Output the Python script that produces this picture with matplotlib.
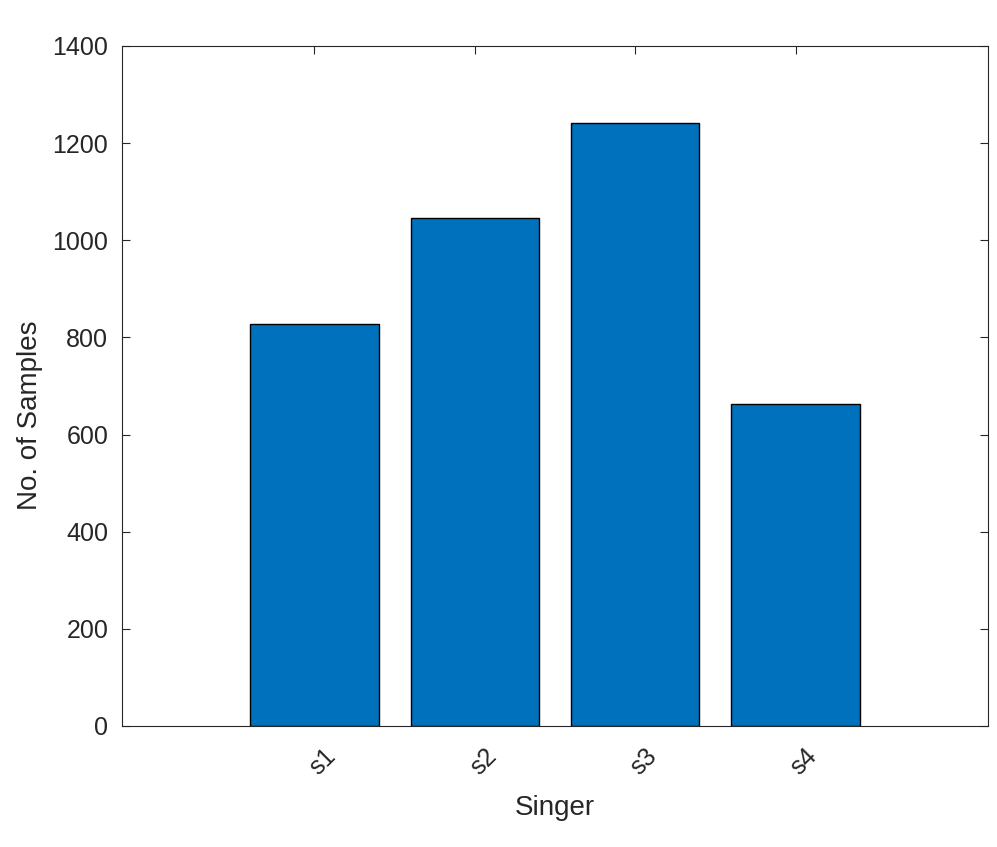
import matplotlib
matplotlib.use('Agg')
import matplotlib.pyplot as plt
from matplotlib.transforms import ScaledTranslation

# Data
singers = ['s1', 's2', 's3', 's4']
samples = [828, 1046, 1242, 663]

plt.rcParams['font.family'] = ['Liberation Sans', 'DejaVu Sans']

fig = plt.figure(figsize=(9.97, 8.47), dpi=100)
ax = fig.add_axes([0.1224, 0.1429, 0.991 - 0.1224, 0.9457 - 0.1429])

pos = list(range(1, len(singers) + 1))
ax.bar(pos, samples, width=0.8, color='#0072BD', edgecolor='black', linewidth=1.0, zorder=2)

ax.set_xlim(-0.2, 5.2)
ax.set_ylim(0, 1400)
ax.set_xticks(pos)
ax.set_xticklabels(singers, rotation=45, ha='center', va='top')
ax.set_yticks(range(0, 1401, 200))

ax.tick_params(direction='in', top=True, right=True, length=6, width=0.8,
               labelsize=18, colors='#262626', pad=10)
ax.tick_params(axis='x', pad=13)
# nudge rotated labels a bit to the right, like the original
shift = ScaledTranslation(6 / 72, 0, fig.dpi_scale_trans)
for lbl in ax.get_xticklabels():
    lbl.set_transform(lbl.get_transform() + shift)

for sp in ax.spines.values():
    sp.set_color('#262626')
    sp.set_linewidth(0.8)
    sp.set_zorder(3)

ax.set_xlabel('Singer', fontsize=20, color='#262626', labelpad=11)
ax.set_ylabel('No. of Samples', fontsize=20, color='#262626', labelpad=7, y=0.457)

fig.savefig('out.png', dpi=100)
